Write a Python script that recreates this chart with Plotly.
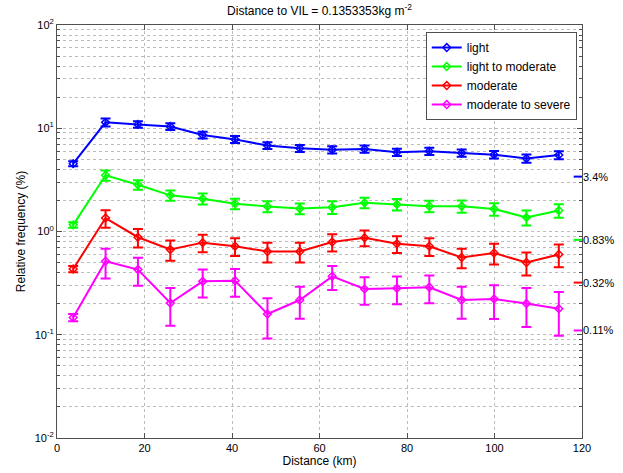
import math
import plotly.graph_objects as go

distance_km = [3.7, 11.1, 18.5, 25.9, 33.3, 40.7, 48.1, 55.5, 62.9, 70.3, 77.7, 85.1, 92.5, 99.9, 107.3, 114.7]

light = [4.54, 11.4, 10.9, 10.4, 8.6, 7.8, 6.8, 6.4, 6.2, 6.3, 5.85, 6.0, 5.75, 5.55, 5.1, 5.5]
light_err = [0.25, 1.0, 0.8, 0.8, 0.65, 0.6, 0.5, 0.5, 0.5, 0.5, 0.47, 0.48, 0.46, 0.47, 0.46, 0.5]

light_mod = [1.16, 3.5, 2.84, 2.24, 2.08, 1.86, 1.75, 1.67, 1.72, 1.90, 1.83, 1.76, 1.76, 1.65, 1.37, 1.60]
light_mod_err = [0.07, 0.40, 0.30, 0.26, 0.25, 0.22, 0.21, 0.20, 0.24, 0.22, 0.23, 0.22, 0.24, 0.23, 0.23, 0.24]

moderate = [0.434, 1.35, 0.88, 0.67, 0.78, 0.72, 0.64, 0.64, 0.79, 0.87, 0.76, 0.72, 0.56, 0.62, 0.50, 0.60]
moderate_err = [0.03, 0.26, 0.18, 0.15, 0.15, 0.14, 0.14, 0.14, 0.15, 0.15, 0.14, 0.14, 0.12, 0.14, 0.125, 0.15]

mod_severe = [0.147, 0.515, 0.428, 0.203, 0.329, 0.334, 0.159, 0.217, 0.368, 0.278, 0.282, 0.288, 0.217, 0.222, 0.201, 0.179]
mod_severe_err = [0.012, 0.165, 0.13, 0.081, 0.10, 0.10, 0.067, 0.074, 0.096, 0.083, 0.085, 0.086, 0.074, 0.08, 0.082, 0.081]

series_names = ["light", "light to moderate", "moderate", "moderate to severe"]
series_colors = ["#0000ff", "#00ff00", "#ff0000", "#ff00ff"]

ref_values = [3.4, 0.83, 0.32, 0.11]
ref_labels = ["3.4%", "0.83%", "0.32%", "0.11%"]

y_tickvals = [0.01, 0.1, 1, 10, 100]
y_ticktext = ["10<sup>-2</sup>", "10<sup>-1</sup>", "10<sup>0</sup>", "10<sup>1</sup>", "10<sup>2</sup>"]
x_tickvals = [0, 20, 40, 60, 80, 100, 120]

FONT = "Liberation Sans, Arial, sans-serif"
GRID = "#bcbcbc"
AXIS = "#505050"

fig = go.Figure()
for name, color, vals, errs in zip(series_names, series_colors,
                                   [light, light_mod, moderate, mod_severe],
                                   [light_err, light_mod_err, moderate_err, mod_severe_err]):
    fig.add_trace(go.Scatter(
        x=distance_km, y=vals, name=name, mode="lines+markers",
        line=dict(color=color, width=2),
        marker=dict(symbol="diamond-open", size=6, color=color, line=dict(width=1.5, color=color)),
        error_y=dict(type="data", array=errs, visible=True, color=color, thickness=2, width=5),
    ))

# reference markers on right edge
for v, lab, color in zip(ref_values, ref_labels, series_colors):
    fig.add_shape(type="line", xref="x", yref="y", x0=118.1, x1=120, y0=v, y1=v,
                  line=dict(color=color, width=2))
    fig.add_annotation(x=120, y=math.log10(v), xref="x", yref="y", yanchor="middle", text=lab,
                       showarrow=False, xanchor="left", xshift=-1,
                       font=dict(family=FONT, size=11, color="black"))

fig.update_layout(
    width=623, height=473,
    margin=dict(l=57, r=41, t=25, b=35, autoexpand=False),
    paper_bgcolor="white", plot_bgcolor="white",
    font=dict(family=FONT, size=11, color="black"),
    title=dict(text="Distance to VIL = 0.1353353kg m<sup>-2</sup>", x=0.5, xref="paper",
               y=1 - 11 / 473, yref="container", yanchor="middle", xanchor="center",
               font=dict(family=FONT, size=12, color="black")),
    legend=dict(x=0.99, y=0.983, xanchor="right", yanchor="top", bgcolor="white",
                bordercolor=AXIS, borderwidth=1, font=dict(family=FONT, size=12),
                tracegroupgap=0, itemwidth=30),
    showlegend=True,
)

fig.update_xaxes(range=[0, 120], tickvals=x_tickvals, ticks="inside", ticklen=5,
                 showline=True, linecolor=AXIS, linewidth=1, mirror="ticks", tickcolor=AXIS,
                 showgrid=True, gridcolor=GRID, griddash="dot", gridwidth=1, zeroline=False,
                 automargin=False,
                 title=dict(text="Distance (km)", standoff=2, font=dict(family=FONT, size=12)),
                 tickfont=dict(family=FONT, size=11))
fig.update_yaxes(type="log", range=[-2, 2], tickvals=y_tickvals, ticktext=y_ticktext,
                 ticks="inside", ticklen=5, tickcolor=AXIS,
                 showline=True, linecolor=AXIS, linewidth=1, mirror="ticks",
                 showgrid=True, gridcolor=GRID, griddash="dot", gridwidth=1, zeroline=False,
                 automargin=False,
                 minor=dict(dtick="D1", ticks="inside", ticklen=3, tickcolor=AXIS,
                            showgrid=True, gridcolor=GRID, griddash="dot", gridwidth=1),
                 title=dict(text="Relative frequency (%)", standoff=6, font=dict(family=FONT, size=12)),
                 tickfont=dict(family=FONT, size=11))

fig.write_html("out.html", config={"displayModeBar": False},
               post_script="document.body.style.margin='0px';document.body.style.padding='0px';")
